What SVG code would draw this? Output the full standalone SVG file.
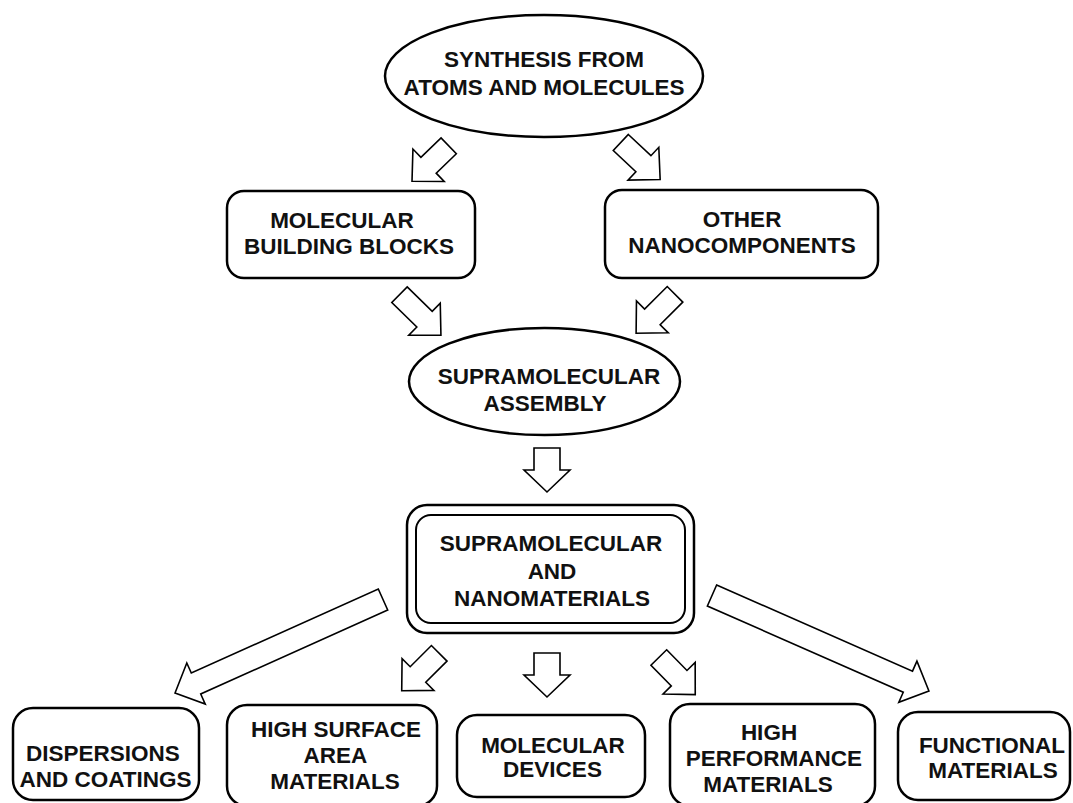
<svg xmlns="http://www.w3.org/2000/svg" width="1073" height="803" viewBox="0 0 1073 803">
<style>
  .node { fill: #fff; stroke: #000; stroke-width: 2.5; }
  .thin { fill: #fff; stroke: #000; stroke-width: 2; }
  .arrow { fill: #fff; stroke: #000; stroke-width: 1.6; stroke-linejoin: miter; }
  text { font-family: "Liberation Sans", Arial, sans-serif; font-weight: bold; font-size: 22.5px; fill: #111; text-anchor: middle; }
</style>
<rect width="1073" height="803" fill="#fff"/>

<g id="connectors">
  <!-- short diagonal / vertical block arrows: tail centre at origin, pointing +x -->
  <path class="arrow" transform="translate(448.7,145.8) rotate(136)" d="M0,-11 L28,-11 L28,-22.5 L51,0 L28,22.5 L28,11 L0,11 Z"/>
  <path class="arrow" transform="translate(620.8,142.5) rotate(43.2)" d="M0,-11 L31,-11 L31,-22.5 L54,0 L31,22.5 L31,11 L0,11 Z"/>
  <path class="arrow" transform="translate(399.5,294.7) rotate(44.4)" d="M0,-11 L35,-11 L35,-22.5 L58,0 L35,22.5 L35,11 L0,11 Z"/>
  <path class="arrow" transform="translate(675,294.3) rotate(135)" d="M0,-11 L32,-11 L32,-22.5 L55,0 L32,22.5 L32,11 L0,11 Z"/>
  <path class="arrow" transform="translate(547,448) rotate(90)" d="M0,-13 L22,-13 L22,-23 L44,0 L22,23 L22,13 L0,13 Z"/>
  <path class="arrow" transform="translate(439.2,653.3) rotate(135)" d="M0,-11 L30,-11 L30,-22.5 L53,0 L30,22.5 L30,11 L0,11 Z"/>
  <path class="arrow" transform="translate(547,653) rotate(90)" d="M0,-13 L22,-13 L22,-23 L44,0 L22,23 L22,13 L0,13 Z"/>
  <path class="arrow" transform="translate(658.8,657.5) rotate(45.5)" d="M0,-11 L29,-11 L29,-22.5 L52,0 L29,22.5 L29,11 L0,11 Z"/>
  <!-- long arrows -->
  <path class="arrow" transform="translate(383,599.5) rotate(155.8)" d="M0,-11.5 L205,-11.5 L205,-22.5 L228,0 L205,22.5 L205,11.5 L0,11.5 Z"/>
  <path class="arrow" transform="translate(712,595.5) rotate(23.75)" d="M0,-11.5 L214,-11.5 L214,-22.5 L237,0 L214,22.5 L214,11.5 L0,11.5 Z"/>
</g>

<g id="synthesis">
  <ellipse class="node" cx="544" cy="76" rx="159" ry="61"/>
  <text x="544" y="67">SYNTHESIS FROM</text>
  <text x="544" y="95">ATOMS AND MOLECULES</text>
</g>

<g id="building-blocks">
  <rect class="node" x="227" y="191" width="248" height="87" rx="17"/>
  <text x="342" y="228">MOLECULAR</text>
  <text x="349" y="254">BUILDING BLOCKS</text>
</g>

<g id="nanocomponents">
  <rect class="node" x="605" y="190" width="273" height="88" rx="17"/>
  <text x="742" y="227">OTHER</text>
  <text x="742" y="253">NANOCOMPONENTS</text>
</g>

<g id="assembly">
  <ellipse class="node" cx="544.5" cy="381.5" rx="135.5" ry="53.5"/>
  <text x="549" y="384">SUPRAMOLECULAR</text>
  <text x="545" y="411">ASSEMBLY</text>
</g>

<g id="nanomaterials">
  <rect class="node" x="407" y="505" width="287" height="128" rx="20"/>
  <rect class="thin" x="416" y="515" width="269" height="108" rx="15"/>
  <text x="551" y="551">SUPRAMOLECULAR</text>
  <text x="552" y="579">AND</text>
  <text x="552" y="606">NANOMATERIALS</text>
</g>

<g id="dispersions">
  <rect class="node" x="13" y="708" width="186" height="92" rx="20"/>
  <text x="103" y="761">DISPERSIONS</text>
  <text x="105.5" y="787">AND COATINGS</text>
</g>

<g id="high-surface">
  <rect class="node" x="227" y="705" width="210" height="101" rx="20"/>
  <text x="336" y="737">HIGH SURFACE</text>
  <text x="335.5" y="763">AREA</text>
  <text x="335" y="789">MATERIALS</text>
</g>

<g id="devices">
  <rect class="node" x="457" y="715" width="188" height="82" rx="20"/>
  <text x="553" y="753">MOLECULAR</text>
  <text x="552.5" y="777">DEVICES</text>
</g>

<g id="high-performance">
  <rect class="node" x="670" y="704" width="205" height="102" rx="20"/>
  <text x="769" y="740">HIGH</text>
  <text x="774" y="766">PERFORMANCE</text>
  <text x="768" y="792">MATERIALS</text>
</g>

<g id="functional">
  <rect class="node" x="898" y="712" width="172" height="88" rx="20"/>
  <text x="992" y="753">FUNCTIONAL</text>
  <text x="993" y="778">MATERIALS</text>
</g>
</svg>
